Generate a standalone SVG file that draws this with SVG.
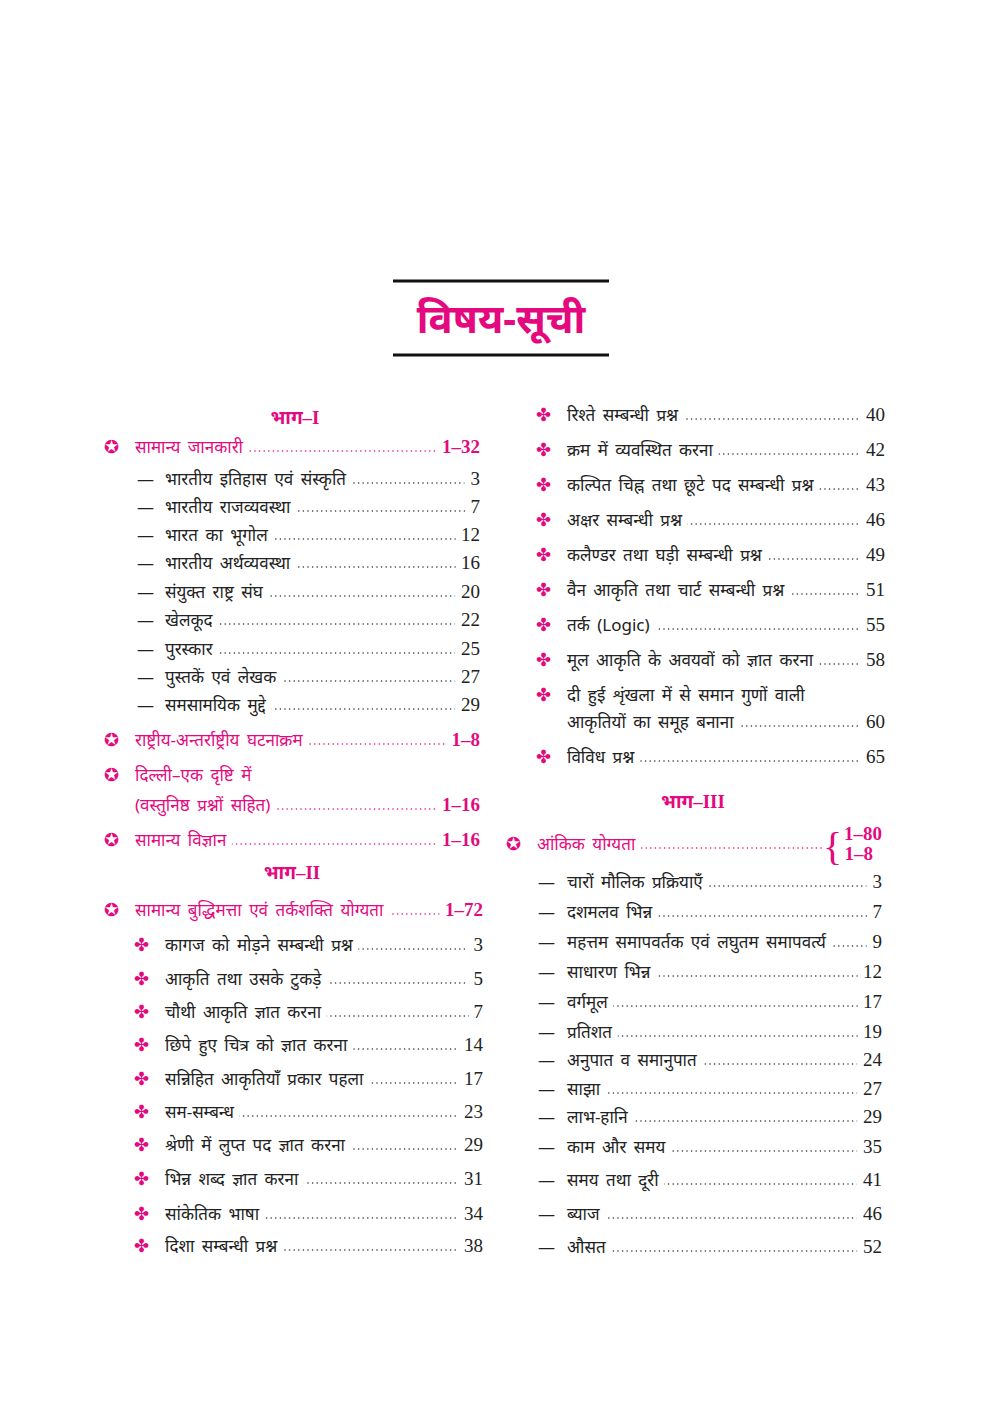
<svg xmlns="http://www.w3.org/2000/svg" width="992" height="1403" viewBox="0 0 992 1403">
<style>
text{font-family:"Noto Sans","Noto Sans Devanagari","Lohit Devanagari","Liberation Serif",serif;font-size:17px;fill:#222;word-spacing:3px}
.m{fill:#e4097f}
.t{font-size:40px;font-weight:bold;word-spacing:0}
.h{font-size:19px;font-weight:bold;font-family:"Liberation Serif","Noto Sans",serif}
.n{font-family:"Liberation Serif",serif;font-size:19px;text-anchor:end}
.nb{font-weight:bold}
.k{paint-order:stroke;stroke:#fff;stroke-width:14px;stroke-linejoin:round}
.d{stroke:#333;stroke-width:1.6;stroke-dasharray:0 4.6;stroke-linecap:round}
.dm{stroke:#e4097f}
.b{font-size:18px;fill:#e4097f}
.mid{text-anchor:middle}
</style>
<rect width="992" height="1403" fill="#fff"/>
<g id="title">
<line x1="393" y1="281" x2="609" y2="281" stroke="#111" stroke-width="3"/>
<line x1="393" y1="355" x2="609" y2="355" stroke="#111" stroke-width="3"/>
<text class="t m mid" x="501" y="333">विषय-सूची</text>
</g>
<g id="left">
<text class="h m mid" x="295" y="424">भाग–I</text>
<text class="h m mid" x="292" y="879">भाग–II</text>
<g id="l1"><line class="d dm" x1="140" y1="451" x2="475" y2="451"/><text class="b" x="104" y="453">✪</text><text class="m k" x="135" y="453">सामान्य जानकारी</text><text class="n m nb k" x="480" y="453">1–32</text></g>
<g id="l2"><line class="d" x1="170" y1="483" x2="475" y2="483"/><text x="137" y="485">—</text><text class="k" x="165" y="485">भारतीय इतिहास एवं संस्कृति</text><text class="n k" x="480" y="485">3</text></g>
<g id="l3"><line class="d" x1="170" y1="511" x2="475" y2="511"/><text x="137" y="513">—</text><text class="k" x="165" y="513">भारतीय राजव्यवस्था</text><text class="n k" x="480" y="513">7</text></g>
<g id="l4"><line class="d" x1="170" y1="539" x2="475" y2="539"/><text x="137" y="541">—</text><text class="k" x="165" y="541">भारत का भूगोल</text><text class="n k" x="480" y="541">12</text></g>
<g id="l5"><line class="d" x1="170" y1="567" x2="475" y2="567"/><text x="137" y="569">—</text><text class="k" x="165" y="569">भारतीय अर्थव्यवस्था</text><text class="n k" x="480" y="569">16</text></g>
<g id="l6"><line class="d" x1="170" y1="596" x2="475" y2="596"/><text x="137" y="598">—</text><text class="k" x="165" y="598">संयुक्त राष्ट्र संघ</text><text class="n k" x="480" y="598">20</text></g>
<g id="l7"><line class="d" x1="170" y1="624" x2="475" y2="624"/><text x="137" y="626">—</text><text class="k" x="165" y="626">खेलकूद</text><text class="n k" x="480" y="626">22</text></g>
<g id="l8"><line class="d" x1="170" y1="653" x2="475" y2="653"/><text x="137" y="655">—</text><text class="k" x="165" y="655">पुरस्कार</text><text class="n k" x="480" y="655">25</text></g>
<g id="l9"><line class="d" x1="170" y1="681" x2="475" y2="681"/><text x="137" y="683">—</text><text class="k" x="165" y="683">पुस्तकें एवं लेखक</text><text class="n k" x="480" y="683">27</text></g>
<g id="l10"><line class="d" x1="170" y1="709" x2="475" y2="709"/><text x="137" y="711">—</text><text class="k" x="165" y="711">समसामयिक मुद्दे</text><text class="n k" x="480" y="711">29</text></g>
<g id="l11"><line class="d dm" x1="140" y1="744" x2="475" y2="744"/><text class="b" x="104" y="746">✪</text><text class="m k" x="135" y="746">राष्ट्रीय-अन्तर्राष्ट्रीय घटनाक्रम</text><text class="n m nb k" x="480" y="746">1–8</text></g>
<g id="l12"><text class="b" x="104" y="781">✪</text><text class="m" x="135" y="781">दिल्ली–एक दृष्टि में</text>
<line class="d dm" x1="140" y1="809" x2="475" y2="809"/><text class="m k" x="135" y="811">(वस्तुनिष्ठ प्रश्नों सहित)</text><text class="n m nb k" x="480" y="811">1–16</text></g>
<g id="l13"><line class="d dm" x1="140" y1="844" x2="475" y2="844"/><text class="b" x="104" y="846">✪</text><text class="m k" x="135" y="846">सामान्य विज्ञान</text><text class="n m nb k" x="480" y="846">1–16</text></g>
<g id="l14"><line class="d dm" x1="140" y1="914" x2="478" y2="914"/><text class="b" x="104" y="916">✪</text><text class="m k" x="135" y="916">सामान्य बुद्धिमत्ता एवं तर्कशक्ति योग्यता</text><text class="n m nb k" x="483" y="916">1–72</text></g>
<g id="l15"><line class="d" x1="170" y1="949" x2="478" y2="949"/><text class="b" x="134" y="951">✤</text><text class="k" x="165" y="951">कागज को मोड़ने सम्बन्धी प्रश्न</text><text class="n k" x="483" y="951">3</text></g>
<g id="l16"><line class="d" x1="170" y1="983" x2="478" y2="983"/><text class="b" x="134" y="985">✤</text><text class="k" x="165" y="985">आकृति तथा उसके टुकड़े</text><text class="n k" x="483" y="985">5</text></g>
<g id="l17"><line class="d" x1="170" y1="1016" x2="478" y2="1016"/><text class="b" x="134" y="1018">✤</text><text class="k" x="165" y="1018">चौथी आकृति ज्ञात करना</text><text class="n k" x="483" y="1018">7</text></g>
<g id="l18"><line class="d" x1="170" y1="1049" x2="478" y2="1049"/><text class="b" x="134" y="1051">✤</text><text class="k" x="165" y="1051">छिपे हुए चित्र को ज्ञात करना</text><text class="n k" x="483" y="1051">14</text></g>
<g id="l19"><line class="d" x1="170" y1="1083" x2="478" y2="1083"/><text class="b" x="134" y="1085">✤</text><text class="k" x="165" y="1085">सन्निहित आकृतियाँ प्रकार पहला</text><text class="n k" x="483" y="1085">17</text></g>
<g id="l20"><line class="d" x1="170" y1="1116" x2="478" y2="1116"/><text class="b" x="134" y="1118">✤</text><text class="k" x="165" y="1118">सम-सम्बन्ध</text><text class="n k" x="483" y="1118">23</text></g>
<g id="l21"><line class="d" x1="170" y1="1149" x2="478" y2="1149"/><text class="b" x="134" y="1151">✤</text><text class="k" x="165" y="1151">श्रेणी में लुप्त पद ज्ञात करना</text><text class="n k" x="483" y="1151">29</text></g>
<g id="l22"><line class="d" x1="170" y1="1183" x2="478" y2="1183"/><text class="b" x="134" y="1185">✤</text><text class="k" x="165" y="1185">भिन्न शब्द ज्ञात करना</text><text class="n k" x="483" y="1185">31</text></g>
<g id="l23"><line class="d" x1="170" y1="1218" x2="478" y2="1218"/><text class="b" x="134" y="1220">✤</text><text class="k" x="165" y="1220">सांकेतिक भाषा</text><text class="n k" x="483" y="1220">34</text></g>
<g id="l24"><line class="d" x1="170" y1="1250" x2="478" y2="1250"/><text class="b" x="134" y="1252">✤</text><text class="k" x="165" y="1252">दिशा सम्बन्धी प्रश्न</text><text class="n k" x="483" y="1252">38</text></g>
</g>
<g id="right">
<g id="r1"><line class="d" x1="572" y1="419" x2="880" y2="419"/><text class="b" x="536" y="421">✤</text><text class="k" x="567" y="421">रिश्ते सम्बन्धी प्रश्न</text><text class="n k" x="885" y="421">40</text></g>
<g id="r2"><line class="d" x1="572" y1="454" x2="880" y2="454"/><text class="b" x="536" y="456">✤</text><text class="k" x="567" y="456">क्रम में व्यवस्थित करना</text><text class="n k" x="885" y="456">42</text></g>
<g id="r3"><line class="d" x1="572" y1="489" x2="880" y2="489"/><text class="b" x="536" y="491">✤</text><text class="k" x="567" y="491">कल्पित चिह्न तथा छूटे पद सम्बन्धी प्रश्न</text><text class="n k" x="885" y="491">43</text></g>
<g id="r4"><line class="d" x1="572" y1="524" x2="880" y2="524"/><text class="b" x="536" y="526">✤</text><text class="k" x="567" y="526">अक्षर सम्बन्धी प्रश्न</text><text class="n k" x="885" y="526">46</text></g>
<g id="r5"><line class="d" x1="572" y1="559" x2="880" y2="559"/><text class="b" x="536" y="561">✤</text><text class="k" x="567" y="561">कलैण्डर तथा घड़ी सम्बन्धी प्रश्न</text><text class="n k" x="885" y="561">49</text></g>
<g id="r6"><line class="d" x1="572" y1="594" x2="880" y2="594"/><text class="b" x="536" y="596">✤</text><text class="k" x="567" y="596">वैन आकृति तथा चार्ट सम्बन्धी प्रश्न</text><text class="n k" x="885" y="596">51</text></g>
<g id="r7"><line class="d" x1="572" y1="629" x2="880" y2="629"/><text class="b" x="536" y="631">✤</text><text class="k" x="567" y="631">तर्क (Logic)</text><text class="n k" x="885" y="631">55</text></g>
<g id="r8"><line class="d" x1="572" y1="664" x2="880" y2="664"/><text class="b" x="536" y="666">✤</text><text class="k" x="567" y="666">मूल आकृति के अवयवों को ज्ञात करना</text><text class="n k" x="885" y="666">58</text></g>
<g id="r9"><text class="b" x="536" y="701">✤</text><text x="567" y="701">दी हुई शृंखला में से समान गुणों वाली</text><line class="d" x1="572" y1="726" x2="880" y2="726"/><text class="k" x="567" y="728">आकृतियों का समूह बनाना</text><text class="n k" x="885" y="728">60</text></g>
<g id="r10"><line class="d" x1="572" y1="761" x2="880" y2="761"/><text class="b" x="536" y="763">✤</text><text class="k" x="567" y="763">विविध प्रश्न</text><text class="n k" x="885" y="763">65</text></g>
<text class="h m mid" x="693" y="808">भाग–III</text>
<g id="r11"><line class="d dm" x1="545" y1="848" x2="822" y2="848"/><text class="b" x="506" y="850">✪</text><text class="m k" x="537" y="850">आंकिक योग्यता</text>
<text class="m" x="823" y="860" style="font-size:40px;font-family:'Liberation Serif',serif">{</text>
<text class="n m nb" x="882" y="840">1–80</text><text class="n m nb" x="873" y="860">1–8</text></g>
<g id="r12"><line class="d" x1="572" y1="886" x2="877" y2="886"/><text x="538" y="888">—</text><text class="k" x="567" y="888">चारों मौलिक प्रक्रियाएँ</text><text class="n k" x="882" y="888">3</text></g>
<g id="r13"><line class="d" x1="572" y1="916" x2="877" y2="916"/><text x="538" y="918">—</text><text class="k" x="567" y="918">दशमलव भिन्न</text><text class="n k" x="882" y="918">7</text></g>
<g id="r14"><line class="d" x1="572" y1="946" x2="877" y2="946"/><text x="538" y="948">—</text><text class="k" x="567" y="948">महत्तम समापवर्तक एवं लघुतम समापवर्त्य</text><text class="n k" x="882" y="948">9</text></g>
<g id="r15"><line class="d" x1="572" y1="976" x2="877" y2="976"/><text x="538" y="978">—</text><text class="k" x="567" y="978">साधारण भिन्न</text><text class="n k" x="882" y="978">12</text></g>
<g id="r16"><line class="d" x1="572" y1="1006" x2="877" y2="1006"/><text x="538" y="1008">—</text><text class="k" x="567" y="1008">वर्गमूल</text><text class="n k" x="882" y="1008">17</text></g>
<g id="r17"><line class="d" x1="572" y1="1036" x2="877" y2="1036"/><text x="538" y="1038">—</text><text class="k" x="567" y="1038">प्रतिशत</text><text class="n k" x="882" y="1038">19</text></g>
<g id="r18"><line class="d" x1="572" y1="1064" x2="877" y2="1064"/><text x="538" y="1066">—</text><text class="k" x="567" y="1066">अनुपात व समानुपात</text><text class="n k" x="882" y="1066">24</text></g>
<g id="r19"><line class="d" x1="572" y1="1093" x2="877" y2="1093"/><text x="538" y="1095">—</text><text class="k" x="567" y="1095">साझा</text><text class="n k" x="882" y="1095">27</text></g>
<g id="r20"><line class="d" x1="572" y1="1121" x2="877" y2="1121"/><text x="538" y="1123">—</text><text class="k" x="567" y="1123">लाभ-हानि</text><text class="n k" x="882" y="1123">29</text></g>
<g id="r21"><line class="d" x1="572" y1="1151" x2="877" y2="1151"/><text x="538" y="1153">—</text><text class="k" x="567" y="1153">काम और समय</text><text class="n k" x="882" y="1153">35</text></g>
<g id="r22"><line class="d" x1="572" y1="1184" x2="877" y2="1184"/><text x="538" y="1186">—</text><text class="k" x="567" y="1186">समय तथा दूरी</text><text class="n k" x="882" y="1186">41</text></g>
<g id="r23"><line class="d" x1="572" y1="1218" x2="877" y2="1218"/><text x="538" y="1220">—</text><text class="k" x="567" y="1220">ब्याज</text><text class="n k" x="882" y="1220">46</text></g>
<g id="r24"><line class="d" x1="572" y1="1251" x2="877" y2="1251"/><text x="538" y="1253">—</text><text class="k" x="567" y="1253">औसत</text><text class="n k" x="882" y="1253">52</text></g>
</g>
</svg>
